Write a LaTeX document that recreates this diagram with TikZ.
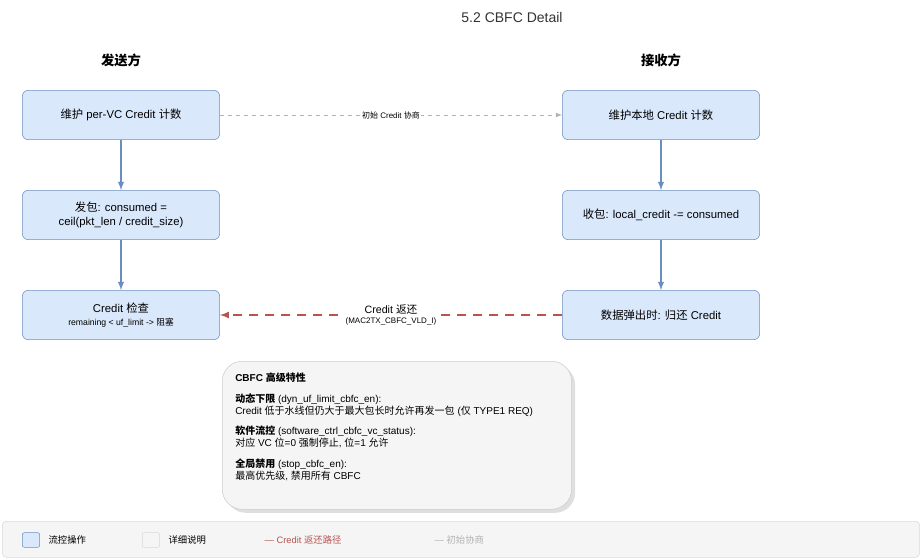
\documentclass[tikz,border=0pt]{standalone}
\usepackage{fontspec}
\setmainfont{Liberation Sans}
\newfontfamily\cjk{Noto Sans CJK SC}
\newcommand{\zh}[1]{{\cjk #1}}
\usepackage{tikz}
\usetikzlibrary{calc}
\usetikzlibrary{positioning}
\usetikzlibrary{shadows}
\definecolor{flowfill}{HTML}{DAE8FC}
\definecolor{flowdraw}{HTML}{6C8EBF}
\definecolor{retred}{HTML}{B85450}
\definecolor{notefill}{HTML}{F5F5F5}
\tikzset{
	flow/.style={draw=flowdraw,fill=flowfill,rounded corners=4.5pt,minimum width=148pt,minimum height=37pt,align=center,font=\fontsize{8.5}{10.5}\selectfont},
	flowarrow/.style={->,>=latex,draw=flowdraw,line width=1.1pt},
	lbl/.style={fill=white,inner sep=1pt,font=\fontsize{6}{7}\selectfont},
}

\begin{document}
\begin{tikzpicture}[x=0.75pt,y=-0.75pt]
			\useasboundingbox (0,0) rectangle (924,560);
			%title and headers
			\node[font=\fontsize{10.5}{12}\selectfont,text=black!80] (title) at (512,17) {5.2 CBFC Detail};
			\node[font=\bfseries\fontsize{10}{12}\selectfont] (send) at (121,60) {\zh{发送方}};
			\node[font=\bfseries\fontsize{10}{12}\selectfont] (recv) at (661,60) {\zh{接收方}};
			%sender side
			\node[flow] (s1) at (121,115) {\zh{维护} per-VC Credit \zh{计数}};
			\node[flow] (s2) at (121,215) {\zh{发包}: consumed =\\ceil(pkt\_len / credit\_size)};
			\node[flow] (s3) at (121,315) {Credit \zh{检查}\\[-1pt]{\fontsize{6.5}{8}\selectfont remaining < uf\_limit -> \zh{阻塞}}};
			%receiver side
			\node[flow] (r1) at (661,115) {\zh{维护本地} Credit \zh{计数}};
			\node[flow] (r2) at (661,215) {\zh{收包}: local\_credit -= consumed};
			\node[flow] (r3) at (661,315) {\zh{数据弹出时}: \zh{归还} Credit};
			\draw[flowarrow] (s1)--(s2);
			\draw[flowarrow] (s2)--(s3);
			\draw[flowarrow] (r1)--(r2);
			\draw[flowarrow] (r2)--(r3);
			%negotiation and return
			\draw[->,>=latex,black!30,dashed,line width=0.6pt] (s1)--(r1) node[midway,lbl,text=black] {\zh{初始} Credit \zh{协商}};
			\draw[->,>=latex,retred,dash pattern=on 7pt off 5pt,line width=1.3pt] (r3)--(s3)
				node[midway,fill=white,inner sep=1pt,align=center,text=black,font=\fontsize{8}{9}\selectfont] {Credit \zh{返还}\\[-1pt]{\fontsize{6}{7}\selectfont (MAC2TX\_CBFC\_VLD\_I)}};
			%notes
			\node[draw=black!20,fill=notefill,rounded corners=15pt,drop shadow={opacity=0.25},minimum width=262pt,minimum height=111pt,anchor=north west,inner sep=0pt] (note) at (222,361) {};
			\node[anchor=north west,align=left,font=\fontsize{7.5}{9.2}\selectfont,inner sep=0pt] (notetext) at (235,373) {%
				\textbf{CBFC \zh{高级特性}}\\[6pt]
				\textbf{\zh{动态下限}} (dyn\_uf\_limit\_cbfc\_en):\\
				Credit \zh{低于水线但仍大于最大包长时允许再发一包} (\zh{仅} TYPE1 REQ)\\[6pt]
				\textbf{\zh{软件流控}} (software\_ctrl\_cbfc\_vc\_status):\\
				\zh{对应} VC \zh{位}=0 \zh{强制停止}, \zh{位}=1 \zh{允许}\\[6pt]
				\textbf{\zh{全局禁用}} (stop\_cbfc\_en):\\
				\zh{最高优先级}, \zh{禁用所有} CBFC};
			%legend
			\node[draw=black!15,fill=notefill,rounded corners=3pt,minimum width=688pt,minimum height=27pt,anchor=north west] (legend) at (2,521) {};
			\node[draw=flowdraw,fill=flowfill,rounded corners=1.5pt,minimum width=13pt,minimum height=11pt,inner sep=0pt] (lgflow) at (31,540) {};
			\node[right=3pt of lgflow,font=\fontsize{7}{8}\selectfont] (lgflowt) {\zh{流控操作}};
			\node[draw=black!15,fill=notefill,rounded corners=1.5pt,minimum width=13pt,minimum height=11pt,inner sep=0pt] (lgnote) at (151,540) {};
			\node[right=3pt of lgnote,font=\fontsize{7}{8}\selectfont] (lgnotet) {\zh{详细说明}};
			\node[anchor=west,text=retred,font=\fontsize{7}{8}\selectfont] (lgret) at (260,540) {--- Credit \zh{返还路径}};
			\node[anchor=west,text=black!30,font=\fontsize{7}{8}\selectfont] (lgneg) at (430,540) {--- \zh{初始协商}};
		\end{tikzpicture}
\end{document}
